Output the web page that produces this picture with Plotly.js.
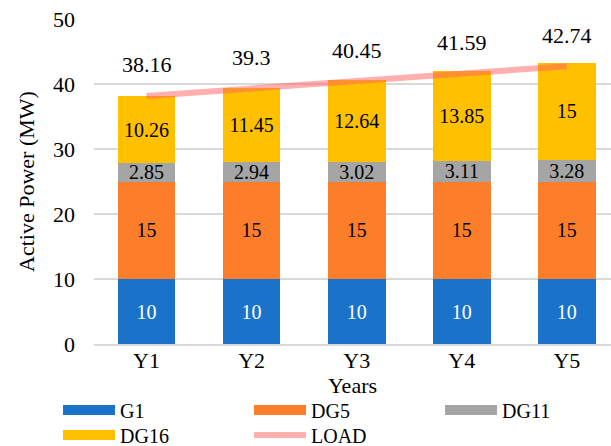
<!DOCTYPE html>
<html>
<head>
<meta charset="utf-8">
<script src="https://cdn.plot.ly/plotly-3.0.1.min.js"></script>
<style>html,body{margin:0;padding:0;background:#fff;}#chart{width:611px;height:446px;}</style>
</head>
<body>
<div id="chart"></div>
<script>
const years = ["Y1", "Y2", "Y3", "Y4", "Y5"];
const g1 = [10, 10, 10, 10, 10];
const dg5 = [15, 15, 15, 15, 15];
const dg11 = [2.85, 2.94, 3.02, 3.11, 3.28];
const dg16 = [10.26, 11.45, 12.64, 13.85, 15];
const load = [38.16, 39.3, 40.45, 41.59, 42.74];

const FONT = "Liberation Serif, Times New Roman, serif";
const colors = {G1: "#1a73c9", DG5: "#fd7e2a", DG11: "#a5a5a5", DG16: "#ffc000"};
const loadColor = "rgba(255,95,95,0.5)";

function barTrace(name, vals, color, txtColor) {
  return {
    type: "bar", x: years, y: vals, name: name,
    marker: {color: color, line: {width: 0}},
    text: vals.map(v => String(v)), textposition: "inside",
    insidetextanchor: "middle", constraintext: "none",
    textfont: {family: FONT, size: 20, color: txtColor},
    showlegend: false, hoverinfo: "skip"
  };
}
function legendTrace(name, color, w, leg) {
  return {type: "scatter", mode: "lines", x: [null], y: [null], name: name,
          line: {color: color, width: w}, showlegend: true, legend: leg};
}

const data = [
  barTrace("G1", g1, colors.G1, "#ffffff"),
  barTrace("DG5", dg5, colors.DG5, "#000000"),
  barTrace("DG11", dg11, colors.DG11, "#000000"),
  barTrace("DG16", dg16, colors.DG16, "#000000"),
  {type: "scatter", mode: "lines", x: years, y: load, name: "LOAD",
   line: {color: loadColor, width: 6}, showlegend: false, hoverinfo: "skip"},
  legendTrace("G1", colors.G1, 12, "legend"),
  legendTrace("DG5", colors.DG5, 12, "legend"),
  legendTrace("DG11", colors.DG11, 12, "legend"),
  legendTrace("DG16", colors.DG16, 12, "legend2"),
  legendTrace("LOAD", loadColor, 6, "legend2")
];

const annotations = years.map((yr, i) => ({
  x: yr, y: load[i], xref: "x", yref: "y", text: String(load[i]),
  showarrow: false, yshift: 31,
  font: {family: FONT, size: 22, color: "#000"}
}));

const legBase = {
  orientation: "h", xanchor: "left", yanchor: "middle",
  entrywidth: 124, entrywidthmode: "pixels", itemwidth: 52,
  font: {family: FONT, size: 20, color: "#000"}, traceorder: "normal",
  bgcolor: "rgba(0,0,0,0)", borderwidth: 0
};

const layout = {
  width: 611, height: 446,
  margin: {l: 94, r: 0, t: 19, b: 102, autoexpand: false},
  paper_bgcolor: "#fff", plot_bgcolor: "#fff",
  barmode: "stack", bargap: 0.452,
  font: {family: FONT, size: 22, color: "#000"},
  xaxis: {
    type: "category", range: [-0.5, 4.42],
    showgrid: false, showline: true, linecolor: "#d9d9d9", linewidth: 2,
    ticks: "", ticklabelstandoff: -4, tickfont: {family: FONT, size: 22, color: "#000"},
    title: {text: "Years", font: {family: FONT, size: 22, color: "#000"}, standoff: 0}
  },
  yaxis: {
    range: [0, 50], dtick: 10, showgrid: true, gridcolor: "#d9d9d9", gridwidth: 2,
    zeroline: false, showline: false, ticks: "", ticklabelstandoff: 18,
    tickfont: {family: FONT, size: 22, color: "#000"},
    title: {text: "Active Power (MW)", font: {family: FONT, size: 22, color: "#000"}, standoff: 12}
  },
  legend: Object.assign({}, legBase, {x: -0.0696, y: -0.203}),
  legend2: Object.assign({}, legBase, {x: -0.0696, y: -0.28}),
  annotations: annotations
};

Plotly.newPlot("chart", data, layout, {staticPlot: true, displayModeBar: false});
</script>
</body>
</html>
